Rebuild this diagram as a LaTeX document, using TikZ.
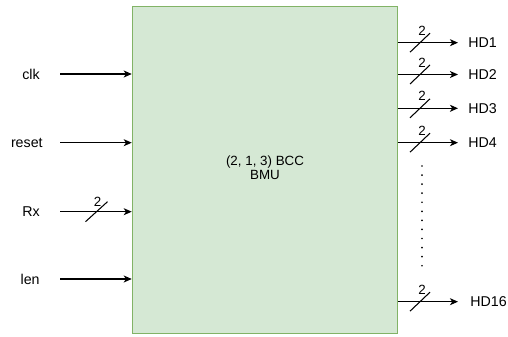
\documentclass[tikz,border=0pt]{standalone}
\usepackage{fontspec}
\setmainfont{Liberation Sans}
\usetikzlibrary{arrows.meta, positioning}

\definecolor{bmufill}{HTML}{D5E8D4}
\definecolor{bmuline}{HTML}{82B366}

\begin{document}
\begin{tikzpicture}[
		x=0.02cm, y=-0.02cm,
		font=\fontsize{7.6}{8}\selectfont,
		% --- block and signal styles ---
		block_bmu/.style = {draw=bmuline, fill=bmufill, rectangle, minimum width=5.3cm, minimum height=6.56cm, align=center, line width=0.6pt},
		pin_lbl/.style = {inner sep=0pt, font=\fontsize{8.1}{9}\selectfont},
		bus_lbl/.style = {inner sep=0pt},
		sig/.style = {-{Stealth[length=4.6pt, width=4pt, inset=1.3pt]}, line width=0.6pt},
		bus_slash/.style = {line width=0.6pt},
		dot_line/.style = {line width=1.1pt, line cap=round, dash pattern=on 0pt off 5.16pt}
		]
		\useasboundingbox (0,0) rectangle (508,337);
		
		% =========================================================================
		% 1. MAIN BLOCK
		% =========================================================================
		\node [block_bmu] (bmu) at (264.75,170) {};
		\node [align=center, inner sep=0pt] (bmu_txt) at (265,168) {(2, 1, 3) BCC\\BMU};
		
		% =========================================================================
		% 2. INPUTS
		% =========================================================================
		\node [pin_lbl, anchor=east] (clk) at (40,74) {clk};
		\coordinate (clk_s) at (60,74);
		\draw [sig] (clk_s) -- (clk_s -| bmu.west);
		
		\node [pin_lbl, anchor=east] (reset) at (43,142.7) {reset};
		\coordinate (reset_s) at (60,142.7);
		\draw [sig] (reset_s) -- (reset_s -| bmu.west);
		
		\node [pin_lbl, anchor=east] (rx) at (40,211.7) {Rx};
		\coordinate (rx_s) at (60,211.7);
		\draw [sig] (rx_s) -- (rx_s -| bmu.west);
		% bus width on Rx
		\coordinate (rx_bus) at (96.5,211.7);
		\draw [bus_slash] ([shift={(-11,10)}]rx_bus) -- ([shift={(11,-10)}]rx_bus);
		\node [bus_lbl] at ([shift={(1,-10)}]rx_bus) {2};
		
		\node [pin_lbl, anchor=east] (len) at (40,279) {len};
		\coordinate (len_s) at (60,279);
		\draw [sig] (len_s) -- (len_s -| bmu.west);
		
		% =========================================================================
		% 3. OUTPUTS (2-bit each)
		% =========================================================================
		\coordinate (hd1_e) at (458,42.7);
		\draw [sig] (hd1_e -| bmu.east) -- (hd1_e);
		\node [pin_lbl, anchor=west] (hd1) at (468,42.7) {HD1};
		\coordinate (hd1_bus) at (420,42.7);
		\draw [bus_slash] ([shift={(-10,9.5)}]hd1_bus) -- ([shift={(10,-9.5)}]hd1_bus);
		\node [bus_lbl] at ([shift={(2,-12)}]hd1_bus) {2};
		
		\coordinate (hd2_e) at (458,74.5);
		\draw [sig] (hd2_e -| bmu.east) -- (hd2_e);
		\node [pin_lbl, anchor=west] (hd2) at (468,74.5) {HD2};
		\coordinate (hd2_bus) at (420,74.5);
		\draw [bus_slash] ([shift={(-10,9.5)}]hd2_bus) -- ([shift={(10,-9.5)}]hd2_bus);
		\node [bus_lbl] at ([shift={(2,-12)}]hd2_bus) {2};
		
		\coordinate (hd3_e) at (458,108.3);
		\draw [sig] (hd3_e -| bmu.east) -- (hd3_e);
		\node [pin_lbl, anchor=west] (hd3) at (468,108.3) {HD3};
		\coordinate (hd3_bus) at (420,108.3);
		\draw [bus_slash] ([shift={(-10,9.5)}]hd3_bus) -- ([shift={(10,-9.5)}]hd3_bus);
		\node [bus_lbl] at ([shift={(2,-12)}]hd3_bus) {2};
		
		\coordinate (hd4_e) at (458,142.7);
		\draw [sig] (hd4_e -| bmu.east) -- (hd4_e);
		\node [pin_lbl, anchor=west] (hd4) at (468,142.7) {HD4};
		\coordinate (hd4_bus) at (420,142.7);
		\draw [bus_slash] ([shift={(-10,9.5)}]hd4_bus) -- ([shift={(10,-9.5)}]hd4_bus);
		\node [bus_lbl] at ([shift={(2,-12)}]hd4_bus) {2};
		
		% skipped outputs
		\draw [dot_line] (422,166) -- (422,266.1);
		
		\coordinate (hd16_e) at (458,301.7);
		\draw [sig] (hd16_e -| bmu.east) -- (hd16_e);
		\node [pin_lbl, anchor=west] (hd16) at (470,301.7) {HD16};
		\coordinate (hd16_bus) at (420,301.7);
		\draw [bus_slash] ([shift={(-10,9.5)}]hd16_bus) -- ([shift={(10,-9.5)}]hd16_bus);
		\node [bus_lbl] at ([shift={(2,-12)}]hd16_bus) {2};
		
\end{tikzpicture}
\end{document}
